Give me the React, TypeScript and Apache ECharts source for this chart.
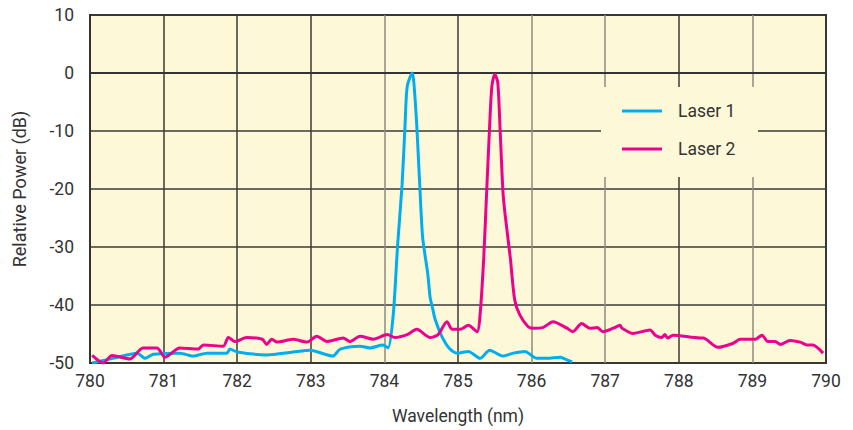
import React, { useEffect, useRef } from "react";
import * as echarts from "echarts";

const laser1Wavelength = [
  780.03, 780.31, 780.64, 780.75, 780.86, 781.22, 781.4, 781.59, 781.86, 781.9, 782.0, 782.4, 782.76,
  782.99, 783.3, 783.4, 783.67, 783.8, 783.98, 784.05, 784.12, 784.18, 784.24, 784.28, 784.31, 784.38,
  784.4, 784.44, 784.48, 784.52, 784.59, 784.62, 784.65, 784.69, 784.78, 784.89, 784.99, 785.14, 785.3,
  785.43, 785.61, 785.75, 785.91, 786.07, 786.21, 786.39, 786.45, 786.55,
];
const laser1Power = [
  -50.0, -49.2, -48.3, -49.2, -48.5, -48.3, -48.8, -48.3, -48.3, -47.6, -48.1, -48.6, -48.1,
  -47.8, -48.8, -47.6, -47.1, -47.4, -46.9, -47.4, -41.7, -29.6, -19.3, -9.1, -2.3, 0,
  -1.6, -9.1, -19.3, -28.4, -34.7, -38.6, -40.3, -42.5, -45.4, -47.6, -48.3, -48.0, -49.2,
  -47.8, -48.8, -48.3, -48.0, -49.2, -49.2, -49.0, -49.3, -49.8,
];

const laser2Wavelength = [
  780.03, 780.18, 780.3, 780.54, 780.72, 780.91, 781.02, 781.22, 781.47, 781.54, 781.81, 781.88, 781.97,
  782.13, 782.34, 782.4, 782.47, 782.54, 782.76, 782.95, 783.08, 783.22, 783.44, 783.53, 783.67, 783.85,
  784.04, 784.14, 784.31, 784.44, 784.62, 784.73, 784.85, 784.92, 785.03, 785.14, 785.26, 785.3, 785.35,
  785.39, 785.43, 785.46, 785.5, 785.54, 785.57, 785.61, 785.64, 785.71, 785.77, 785.84, 785.95, 786.02,
  786.15, 786.29, 786.48, 786.56, 786.68, 786.79, 786.89, 786.97, 787.11, 787.2, 787.23, 787.38, 787.61,
  787.68, 787.77, 787.81, 787.85, 787.92, 788.29, 788.33, 788.53, 788.74, 788.83, 789.04, 789.13, 789.21,
  789.31, 789.38, 789.51, 789.65, 789.74, 789.82, 789.96,
];
const laser2Power = [
  -48.7, -50.0, -48.7, -49.3, -47.4, -47.4, -49.0, -47.4, -47.6, -46.9, -47.1, -45.6, -46.3,
  -45.6, -45.9, -46.8, -45.9, -46.4, -45.9, -46.4, -45.4, -46.3, -45.7, -46.3, -45.4, -45.9,
  -45.1, -45.6, -45.1, -44.2, -45.6, -45.1, -42.9, -44.2, -44.2, -43.5, -44.6, -41.7, -31.8,
  -20.3, -9.1, -2.3, -0.2, -1.6, -9.1, -20.3, -24.4, -31.8, -39.1, -41.7, -43.7, -44.0,
  -43.9, -42.9, -44.0, -44.6, -43.2, -44.0, -43.9, -44.6, -44.0, -43.5, -44.0, -44.9, -44.3,
  -45.2, -45.6, -45.1, -45.7, -45.2, -45.7, -45.7, -47.3, -46.6, -45.9, -45.9, -45.2, -46.3,
  -46.3, -46.8, -46.1, -46.4, -46.9, -46.9, -48.3,
];

const seriesNames = ["Laser 1", "Laser 2"];
const seriesColors = ["#00aeef", "#ec008c"];

const FONT = "Roboto, 'Liberation Sans', sans-serif";

export default function App() {
  const ref = useRef<HTMLDivElement>(null);
  useEffect(() => {
    if (!ref.current) return;
    const chart = echarts.init(ref.current, undefined, { renderer: "svg" });
    const d1 = laser1Wavelength.map((w, i) => [w, laser1Power[i]]);
    const d2 = laser2Wavelength.map((w, i) => [w, laser2Power[i]]);
    const vColors = ["#3a3a3a", "#3a3a3a", "#3a3a3a", "#3a3a3a", "#8a8a82", "#3a3a3a", "#8a8a82", "#8a8a82", "#3a3a3a", "#8a8a82", "#3a3a3a"];
    chart.setOption({
      animation: false,
      backgroundColor: "#ffffff",
      grid: {
        left: 90,
        top: 15,
        right: 27,
        bottom: 63,
        show: true,
        backgroundColor: "#fdf9d8",
        borderColor: "#333333",
        borderWidth: 2,
      },
      xAxis: {
        type: "value",
        min: 780,
        max: 790,
        interval: 1,
        name: "Wavelength (nm)",
        nameLocation: "middle",
        nameGap: 44,
        nameTextStyle: { fontFamily: FONT, fontSize: 17.5, color: "#333" },
        axisLine: { show: true, lineStyle: { color: "#333", width: 2 } },
        axisTick: { show: false },
        axisLabel: { fontFamily: FONT, fontSize: 17.5, color: "#333", margin: 9 },
        splitLine: { show: true, lineStyle: { color: vColors, width: 1.5 } },
      },
      yAxis: {
        type: "value",
        min: -50,
        max: 10,
        interval: 10,
        name: "Relative Power (dB)",
        nameLocation: "middle",
        nameGap: 62,
        nameTextStyle: { fontFamily: FONT, fontSize: 18, color: "#333" },
        axisLine: { show: true, lineStyle: { color: "#333", width: 2 } },
        axisTick: { show: false },
        axisLabel: { fontFamily: FONT, fontSize: 17.5, color: "#333", margin: 16, padding: [6, 0, 0, 0] },
        splitLine: { show: true, lineStyle: { color: "#3a3a3a", width: 1.5 } },
      },
      graphic: [
        {
          type: "rect",
          z: 3,
          shape: { x: 601, y: 87, width: 157, height: 90 },
          style: { fill: "#fdf9d8" },
        },
      ],
      legend: {
        orient: "vertical",
        left: 622,
        top: 101,
        padding: 0,
        itemWidth: 40,
        itemHeight: 3,
        itemGap: 18,
        icon: "rect",
        textStyle: { fontFamily: FONT, fontSize: 17.5, color: "#333", lineHeight: 20, padding: [0, 0, 0, 11] },
        data: seriesNames,
      },
      series: [
        {
          name: seriesNames[0],
          type: "line",
          data: d1,
          symbol: "none",
          smooth: 0.25,
          lineStyle: { color: seriesColors[0], width: 3 },
          itemStyle: { color: seriesColors[0] },
        },
        {
          name: seriesNames[1],
          type: "line",
          data: d2,
          symbol: "none",
          smooth: 0.25,
          lineStyle: { color: seriesColors[1], width: 3 },
          itemStyle: { color: seriesColors[1] },
        },
      ],
    });
    return () => chart.dispose();
  }, []);
  return <div ref={ref} style={{ width: 853, height: 430, position: "absolute", left: 0, top: 0 }} />;
}
